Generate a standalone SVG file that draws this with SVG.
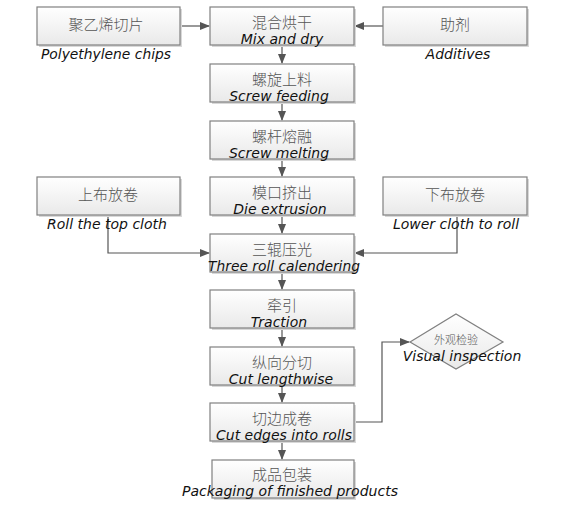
<svg xmlns="http://www.w3.org/2000/svg" width="579" height="510" viewBox="0 0 579 510">
<defs>
<linearGradient id="g" x1="0" y1="0" x2="0" y2="1"><stop offset="0" stop-color="#ffffff"/><stop offset="1" stop-color="#e9e9e9"/></linearGradient>
<marker id="ah" markerWidth="10" markerHeight="8" refX="9" refY="4" orient="auto" markerUnits="userSpaceOnUse"><path d="M0,0 L10,4 L0,8 Z" fill="#555"/></marker>
<style>
.b{fill:url(#g);stroke:#808080;stroke-width:1.2}
.s{fill:#d8d8d8}
.zh{font-family:"Noto Sans CJK SC",sans-serif;font-size:15px;fill:#555;text-anchor:middle;font-weight:300}
.en{font-family:"DejaVu Sans",sans-serif;font-style:italic;font-size:14px;fill:#111;text-anchor:middle}
.c{fill:none;stroke:#555;stroke-width:1.2;marker-end:url(#ah)}
</style>
</defs>
<rect width="579" height="510" fill="#fff"/>
<g id="connectors">
<path class="c" d="M180,26 H209"/>
<path class="c" d="M383,26 H355"/>
<path class="c" d="M282,45 V63"/>
<path class="c" d="M282,102 V120"/>
<path class="c" d="M282,159 V176"/>
<path class="c" d="M282,215 V233"/>
<path class="c" d="M108,215 V253 H209"/>
<path class="c" d="M457,215 V253 H355"/>
<path class="c" d="M282,272 V289"/>
<path class="c" d="M282,328 V346"/>
<path class="c" d="M282,385 V402"/>
<path class="c" d="M282,441 V459"/>
<path class="c" d="M354,422 H382 V342 H409"/>
</g>
<g id="n-pe"><rect class="s" x="39" y="9" width="143" height="38"/><rect class="b" x="37" y="7" width="143" height="38"/><text class="zh" x="106" y="30">聚乙烯切片</text><text class="en" x="106" y="59" textLength="130" lengthAdjust="spacingAndGlyphs">Polyethylene chips</text></g>
<g id="n-add"><rect class="s" x="385" y="9" width="144" height="38"/><rect class="b" x="383" y="7" width="144" height="38"/><text class="zh" x="455" y="30">助剂</text><text class="en" x="458" y="59">Additives</text></g>
<g id="n-mix"><rect class="s" x="212" y="9" width="144" height="38"/><rect class="b" x="210" y="7" width="144" height="38"/><text class="zh" x="282" y="28">混合烘干</text><text class="en" x="282" y="44">Mix and dry</text></g>
<g id="n-feed"><rect class="s" x="212" y="66" width="144" height="38"/><rect class="b" x="210" y="64" width="144" height="38"/><text class="zh" x="282" y="85">螺旋上料</text><text class="en" x="279" y="101">Screw feeding</text></g>
<g id="n-melt"><rect class="s" x="212" y="123" width="144" height="38"/><rect class="b" x="210" y="121" width="144" height="38"/><text class="zh" x="282" y="142">螺杆熔融</text><text class="en" x="279" y="158">Screw melting</text></g>
<g id="n-top"><rect class="s" x="39" y="179" width="143" height="38"/><rect class="b" x="37" y="177" width="143" height="38"/><text class="zh" x="108" y="200">上布放卷</text><text class="en" x="107" y="229">Roll the top cloth</text></g>
<g id="n-die"><rect class="s" x="212" y="179" width="144" height="38"/><rect class="b" x="210" y="177" width="144" height="38"/><text class="zh" x="282" y="198">模口挤出</text><text class="en" x="280" y="214">Die extrusion</text></g>
<g id="n-low"><rect class="s" x="385" y="179" width="144" height="38"/><rect class="b" x="383" y="177" width="144" height="38"/><text class="zh" x="455" y="200">下布放卷</text><text class="en" x="456" y="229">Lower cloth to roll</text></g>
<g id="n-cal"><rect class="s" x="212" y="236" width="144" height="38"/><rect class="b" x="210" y="234" width="144" height="38"/><text class="zh" x="282" y="255">三辊压光</text><text class="en" x="284" y="271" textLength="152" lengthAdjust="spacingAndGlyphs">Three roll calendering</text></g>
<g id="n-tr"><rect class="s" x="212" y="292" width="144" height="38"/><rect class="b" x="210" y="290" width="144" height="38"/><text class="zh" x="282" y="311">牵引</text><text class="en" x="279" y="327">Traction</text></g>
<g id="n-cut"><rect class="s" x="212" y="349" width="144" height="38"/><rect class="b" x="210" y="347" width="144" height="38"/><text class="zh" x="282" y="368">纵向分切</text><text class="en" x="281" y="384">Cut lengthwise</text></g>
<g id="n-edge"><rect class="s" x="212" y="405" width="144" height="38"/><rect class="b" x="210" y="403" width="144" height="38"/><text class="zh" x="282" y="424">切边成卷</text><text class="en" x="284" y="440">Cut edges into rolls</text></g>
<g id="n-vis"><polygon points="410,342 456,314 503,342 456,369" fill="url(#g)" stroke="#808080" stroke-width="1.2"/><text class="zh" x="456" y="344" style="font-size:11px">外观检验</text><text class="en" x="462" y="361">Visual inspection</text></g>
<g id="n-pack"><rect class="s" x="214" y="462" width="142" height="38"/><rect class="b" x="212" y="460" width="142" height="38"/><text class="zh" x="282" y="480">成品包装</text><text class="en" x="290" y="496" textLength="216" lengthAdjust="spacingAndGlyphs">Packaging of finished products</text></g>
</svg>
